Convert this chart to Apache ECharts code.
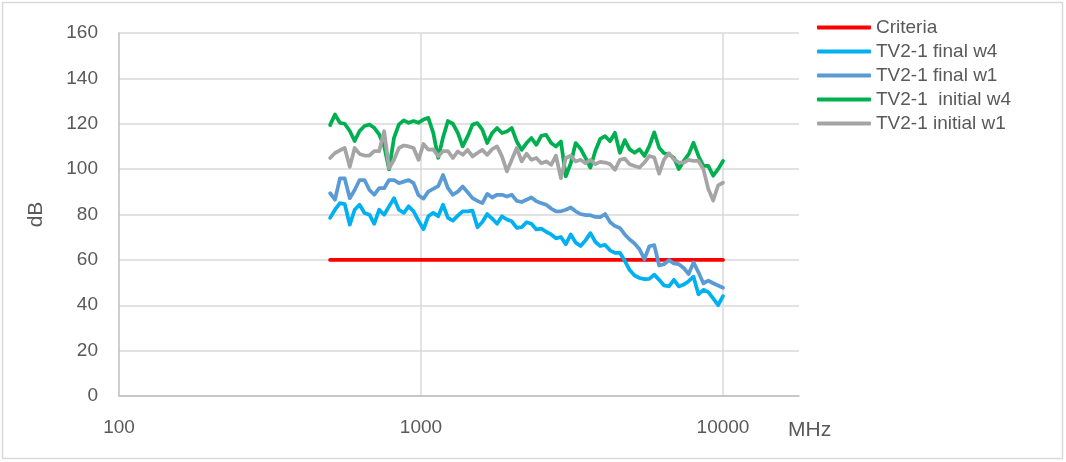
<!DOCTYPE html>
<html>
<head>
<meta charset="utf-8">
<script src="https://cdn.jsdelivr.net/npm/echarts@6/dist/echarts.min.js"></script>
<style>
html, body { margin: 0; padding: 0; background: #fff; }
#chart { width: 1066px; height: 462px; }
</style>
</head>
<body>
<div id="chart"></div>
<script>
// measurement frequencies (MHz)
const frequencies = [
    500, 519, 539, 559, 581, 603, 626, 650, 675, 700,
    727, 755, 784, 814, 845, 877, 910, 945, 981, 1019,
    1057, 1098, 1140, 1183, 1228, 1275, 1324, 1374, 1427, 1481,
    1538, 1596, 1657, 1720, 1786, 1854, 1925, 1998, 2075, 2154,
    2236, 2321, 2410, 2502, 2597, 2697, 2799, 2906, 3017, 3132,
    3252, 3376, 3505, 3638, 3777, 3921, 4071, 4226, 4387, 4555,
    4729, 4909, 5096, 5291, 5493, 5702, 5920, 6146, 6380, 6624,
    6877, 7139, 7411, 7694, 7988, 8293, 8609, 8938, 9279, 9633,
    10000
];

const criteriaFreqs = [500, 10000];
const criteriaValues = [60, 60];

const finalW4 = [
    78.5, 82.1, 85, 84.6, 75.5, 82.1, 84.3, 80.7, 79.9, 75.9,
    82.1, 79.9, 83.6, 87.2, 82.1, 80.7, 83.6, 81.4, 77.3, 73.5,
    79.2, 80.7, 79.2, 84.3, 78.5, 77.3, 79.5, 81.4, 81.4, 81.7,
    74.4, 76.7, 80.2, 78.2, 75.9, 79.2, 77.8, 77, 74.1, 74.4,
    76.6, 75.9, 73.4, 73.8, 72.4, 71.2, 69.5, 70.1, 66.9, 71.2,
    67.6, 66.1, 68.6, 71.8, 68, 66.1, 66.6, 64.2, 63.1, 63.1,
    59.6, 55.5, 53.1, 52, 51.5, 51.6, 53.5, 51.2, 48.7, 48.3,
    51.2, 48.3, 49.1, 50.6, 52.6, 44.8, 46.8, 45.8, 43, 40,
    44
];

const finalW1 = [
    89.4, 86.5, 95.9, 95.9, 87.2, 90.8, 95.2, 95.2, 90.8, 88.7,
    91.6, 91.6, 95.2, 95.2, 93.8, 94.5, 95.2, 93.8, 88.5, 87,
    90.1, 91.3, 92.5, 97.4, 91.6, 88.7, 90.1, 92.3, 89.8, 87.2,
    86, 85, 89.1, 87.5, 88.7, 88.7, 87.9, 88.7, 86, 85.5,
    86.5, 87.5, 85.8, 85, 84.3, 82.6, 81.4, 81.4, 82.1, 83.1,
    81.4, 80.2, 79.7, 79.7, 78.9, 78.8, 80.2, 76.7, 74.9, 74.1,
    71.2, 69, 67.2, 64.7, 60.3, 66, 66.5, 57.5, 58.1, 59.9,
    58.4, 58.1, 56.4, 53.8, 58.9, 54.5, 49.7, 50.9, 49.7, 48.7,
    47.7
];

const initialW4 = [
    119.4, 124.1, 120.4, 120, 116.8, 112.4, 116.8, 119, 119.7, 118.2,
    115.3, 110.1, 99.9, 113.8, 119.7, 121.5, 120.4, 121.2, 120.4, 121.9,
    122.6, 116, 105, 114, 121.2, 120, 116, 110, 114.4, 119.6,
    120.3, 117.4, 111.5, 115.9, 118.1, 115.9, 116.6, 118.1, 112.2, 108.5,
    111.5, 113.7, 110.7, 114.7, 115.1, 111.5, 110, 112.2, 96.8, 102.6,
    111.5, 109, 105, 100.7, 108, 113.3, 114.5, 112.3, 116, 107.2,
    112.8, 108.7, 107.2, 108.7, 105.8, 110.1, 116.2, 109.4, 107, 106.4,
    105, 100, 103.6, 106.5, 111.6, 105.8, 101.4, 101.4, 97.1, 100,
    103.6
];

const initialW1 = [
    104.9, 107.1, 108.3, 109.3, 101, 109.3, 106.7, 106, 106, 107.9,
    107.9, 116.7, 100.4, 104.1, 109.3, 110.4, 110, 109.3, 104.1, 111.1,
    108.6, 108.7, 105.7, 107.9, 107.9, 104.9, 107.8, 106.3, 108.5, 105.6,
    107.1, 108.5, 106.3, 108.8, 110, 105.6, 99, 104.1, 109.3, 103.4,
    106.8, 104.1, 104.9, 102.6, 103.4, 101.9, 105.9, 96, 104.9, 105.9,
    103.4, 104.1, 102.6, 104.1, 102.2, 103.2, 102.9, 102.2, 99.7, 104.1,
    104.6, 102.2, 101.4, 100.7, 102.9, 105.8, 105.1, 98, 104.3, 107,
    104.3, 102.9, 102.9, 104.1, 103.6, 103.6, 100, 91.3, 86.2, 92.8,
    94
];

const seriesNames = ['Criteria', 'TV2-1 final w4', 'TV2-1 final w1', 'TV2-1  initial w4', 'TV2-1 initial w1'];
const seriesColors = ['#ff0000', '#00b0f0', '#5b9bd5', '#00b050', '#a5a5a5'];

const pair = (xs, ys) => xs.map((x, i) => [x, ys[i]]);

const chartDom = document.getElementById('chart');
const chart = echarts.init(chartDom);

const textColor = '#595959';
const fontFamily = '"Liberation Sans", Arial, sans-serif';

const lineSeries = (name, color, data) => ({
    name: name,
    type: 'line',
    data: data,
    showSymbol: false,
    symbol: 'none',
    animation: false,
    lineStyle: { color: color, width: 3.75, cap: 'round', join: 'round' },
    itemStyle: { color: color }
});

const option = {
    animation: false,
    textStyle: { fontFamily: fontFamily },
    graphic: [{
        type: 'rect',
        shape: { x: 2.5, y: 2.5, width: 1060, height: 456 },
        style: { fill: 'none', stroke: '#d9d9d9', lineWidth: 1.5 },
        silent: true
    }],
    grid: {
        left: 119,
        right: 267,
        top: 33,
        bottom: 66
    },
    legend: {
        orient: 'vertical',
        left: 812,
        top: 13,
        icon: 'roundRect',
        itemWidth: 54,
        itemHeight: 4,
        itemGap: 5,
        textStyle: { color: textColor, fontSize: 19, lineHeight: 19, fontFamily: fontFamily, padding: [0, 0, 0, 0] },
        data: seriesNames
    },
    xAxis: {
        type: 'log',
        logBase: 10,
        min: 100,
        max: 17850,
        name: 'MHz',
        nameLocation: 'end',
        nameGap: -11,
        nameTextStyle: {
            color: textColor,
            fontSize: 21,
            fontFamily: fontFamily,
            align: 'left',
            verticalAlign: 'top',
            padding: [24, 0, 0, 0]
        },
        axisLine: { show: true, lineStyle: { color: '#bfbfbf', width: 1.5 } },
        axisTick: { show: false },
        axisLabel: {
            color: textColor,
            fontSize: 19,
            margin: 22,
            showMaxLabel: false,
            formatter: v => String(Math.round(v))
        },
        splitLine: {
            show: true,
            showMinLine: false,
            showMaxLine: false,
            lineStyle: { color: '#d9d9d9', width: 1.5 }
        }
    },
    yAxis: {
        type: 'value',
        min: 0,
        max: 160,
        interval: 20,
        name: 'dB',
        nameLocation: 'middle',
        nameRotate: 90,
        nameGap: 72,
        nameTextStyle: { color: textColor, fontSize: 21, fontFamily: fontFamily },
        axisLine: { show: true, lineStyle: { color: '#bfbfbf', width: 1.5 } },
        axisTick: { show: false },
        axisLabel: { color: textColor, fontSize: 19, margin: 21 },
        splitLine: { show: true, lineStyle: { color: '#d9d9d9', width: 1.5 } }
    },
    series: [
        lineSeries(seriesNames[0], seriesColors[0], pair(criteriaFreqs, criteriaValues)),
        lineSeries(seriesNames[1], seriesColors[1], pair(frequencies, finalW4)),
        lineSeries(seriesNames[2], seriesColors[2], pair(frequencies, finalW1)),
        lineSeries(seriesNames[3], seriesColors[3], pair(frequencies, initialW4)),
        lineSeries(seriesNames[4], seriesColors[4], pair(frequencies, initialW1))
    ]
};

chart.setOption(option);
</script>
</body>
</html>
